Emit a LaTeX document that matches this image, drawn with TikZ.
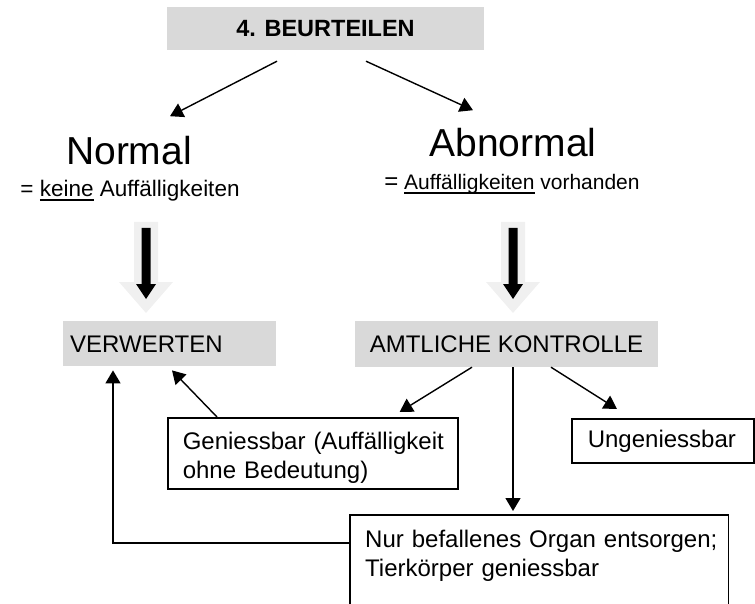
\documentclass[tikz,border=0pt]{standalone}
\usepackage{fontspec}
\setmainfont{Liberation Sans}
\usetikzlibrary{arrows.meta,calc}
\newcommand\myul[1]{\setbox0\hbox{#1}\rlap{\rule[-4pt]{\wd0}{1.7pt}}\box0\relax}
\begin{document}
\begin{tikzpicture}[x=1pt,y=-1pt,
  arr/.style={-{Triangle[length=13pt,width=15pt]}, line width=1.4pt},
  graybox/.style={fill=black!15, draw=none, inner sep=0pt},
  whitebox/.style={draw=black, line width=1.6pt, inner sep=0pt},
  boxfont/.style={font=\fontsize{24}{29}\selectfont}]
\clip (0,0) rectangle (755,604);
\node[graybox, minimum width=317pt, minimum height=43pt, font=\fontsize{23.5}{28}\selectfont\bfseries] (top) at (325.5,28.5) {4. BEURTEILEN};
\node[anchor=base, font=\fontsize{39}{45}\selectfont] (normal) at (129,165) {Normal};
\node[anchor=base, font=\fontsize{22.5}{27}\selectfont] (normaltxt) at (130,197) {= \myul{keine} Auffälligkeiten};
\node[anchor=base, font=\fontsize{39}{45}\selectfont] (abnormal) at (513,157) {Abnormal};
\node[anchor=base, font=\fontsize{21}{25}\selectfont] (abnormaltxt) at (512,190) {{\fontsize{24}{25}\selectfont=} \myul{Auffälligkeiten} vorhanden};
% block arrows
\foreach \cx in {146,513} {
 \fill[black!6] (\cx-12,222) -- (\cx+12,222) -- (\cx+12,282) -- (\cx+27,282) -- (\cx,313) -- (\cx-27,282) -- (\cx-12,282) -- cycle;
 \fill[black] (\cx-4.5,228) -- (\cx+4.5,228) -- (\cx+4.5,284) -- (\cx+10,284) -- (\cx,299) -- (\cx-10,284) -- (\cx-4.5,284) -- cycle;
}
\node[graybox, anchor=north west, minimum width=213pt, minimum height=45pt, text width=199pt, align=left, inner xsep=7pt, text height=17.2pt, text depth=0pt, boxfont] (verw) at (63,321) {VERWERTEN};
\node[graybox, minimum width=303pt, minimum height=46pt, boxfont] (amt) at (506.5,344) {AMTLICHE KONTROLLE};
\node[whitebox, anchor=north west, minimum height=71pt, text width=260pt, inner xsep=15pt, align=left, boxfont] (gen) at (167,417) {\rule{0pt}{27pt}\mbox{Geniessbar (Auffälligkeit}\\\mbox{ohne Bedeutung)}};
\node[whitebox, anchor=north west, minimum height=44pt, text width=150pt, inner xsep=16pt, align=left, text height=17.5pt, text depth=5pt, boxfont] (ung) at (571,418) {Ungeniessbar};
\node[anchor=north west, text width=348pt, inner xsep=15pt, inner ysep=15pt, align=left, boxfont] (nur) at (350,515) {\mbox{Nur befallenes Organ entsorgen;}\\\mbox{Tierkörper geniessbar}};
\coordinate (bot) at (0,640);
\draw[line width=1.6pt] (nur.north west |- bot) -- (nur.north west) -- (nur.north east) -- (nur.north east |- bot);
% connectors
\draw[arr] ($(top.south)+(-48.5,11)$) -- ($(normal.north)+(41,-17)$);
\draw[arr] ($(top.south)+(40.5,11)$) -- ($(abnormal.north)+(-40,-15)$);
\draw[arr] ($(amt.south)+(-34.5,0)$) -- ($(gen.north east)+(-59,-5)$);
\draw[arr] ($(amt.south)+(44.5,0)$) -- ($(ung.north west)+(46,-9)$);
\coordinate (v1) at ($(amt.south)+(6.5,0)$);
\draw[arr, shorten >=4pt] (v1) -- (v1 |- nur.north);
\draw[arr] ($(gen.north west)+(50,0)$) -- ($(verw.south west)+(109,4)$);
\draw[arr] ($(nur.north west)+(0,28)$) -| ($(verw.south west)+(50,4)$);
\end{tikzpicture}
\end{document}
